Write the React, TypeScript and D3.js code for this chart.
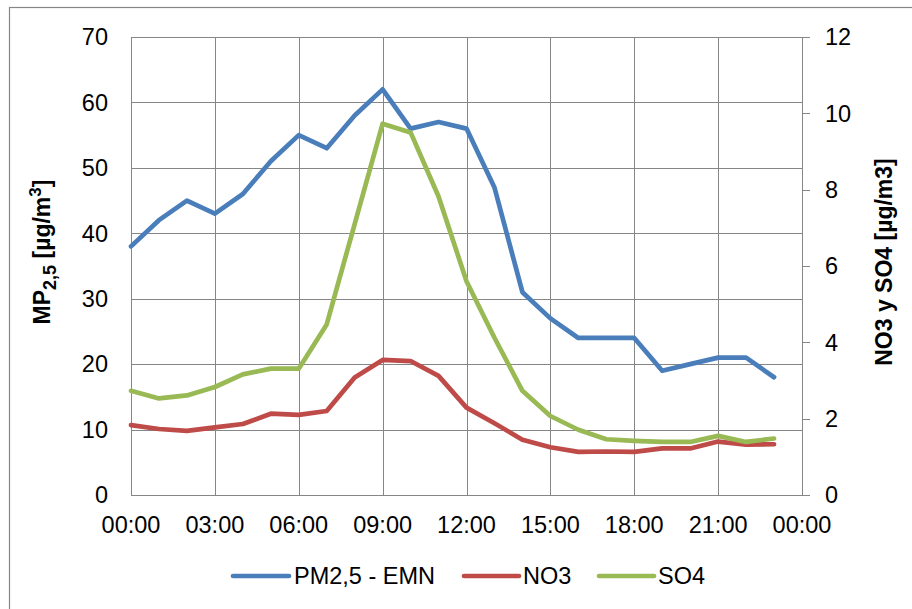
import React from "react";
import * as d3 from "d3";

const hours = d3.range(0, 24);
const pm25 = [38, 42, 45, 43, 46, 51, 55, 53, 58, 62, 56, 57, 56, 47, 31, 27, 24, 24, 24, 19, 20, 21, 21, 18];
const no3 = [1.83, 1.73, 1.68, 1.77, 1.86, 2.13, 2.1, 2.2, 3.08, 3.54, 3.51, 3.12, 2.29, 1.88, 1.45, 1.25, 1.13, 1.14, 1.13, 1.22, 1.22, 1.4, 1.32, 1.33];
const so4 = [2.73, 2.53, 2.61, 2.83, 3.16, 3.31, 3.31, 4.47, 7.1, 9.73, 9.5, 7.82, 5.6, 4.12, 2.73, 2.07, 1.71, 1.46, 1.42, 1.39, 1.39, 1.55, 1.39, 1.48];
const leftTicks = [0, 10, 20, 30, 40, 50, 60, 70];
const rightTicks = [0, 2, 4, 6, 8, 10, 12];
const xTicks = [0, 3, 6, 9, 12, 15, 18, 21, 24];
const xTickLabels = ["00:00", "03:00", "06:00", "09:00", "12:00", "15:00", "18:00", "21:00", "00:00"];
const seriesNames = ["PM2,5 - EMN", "NO3", "SO4"];
const colors = ["#4A7EBB", "#BE4B48", "#98B954"];

export default function App() {
  const L = 131, R = 802, T = 37, B = 495;
  const x = d3.scaleLinear().domain([0, 24]).range([L, R]);
  const yL = d3.scaleLinear().domain([0, 70]).range([B, T]);
  const yR = d3.scaleLinear().domain([0, 12]).range([B, T]);
  const lineL = d3.line<number>().x((_, i) => x(hours[i])).y((d) => yL(d));
  const lineR = d3.line<number>().x((_, i) => x(hours[i])).y((d) => yR(d));
  const grid = "#868686";
  const font = "Liberation Sans, Arial, sans-serif";
  const lw = 4.7;
  const legendItems = [
    { x1: 233, x2: 289, tx: 294 },
    { x1: 464, x2: 519, tx: 523 },
    { x1: 599, x2: 654, tx: 658 },
  ];
  return (
    <svg width={912} height={609} style={{ position: "absolute", left: 0, top: 0, background: "#fff" }} fontFamily={font}>
      <rect x={0} y={0} width={912} height={609} fill="#fff" />
      <rect x={9.5} y={7.5} width={1200} height={1200} fill="none" stroke={grid} strokeWidth={1.2} />
      {leftTicks.map((t) => (
        <line key={"h" + t} x1={L} x2={R} y1={Math.round(yL(t)) + 0.5} y2={Math.round(yL(t)) + 0.5} stroke={grid} strokeWidth={1} />
      ))}
      {xTicks.map((t) => (
        <line key={"v" + t} x1={Math.round(x(t)) + 0.5} x2={Math.round(x(t)) + 0.5} y1={T} y2={B} stroke={grid} strokeWidth={1} />
      ))}
      <line x1={R + 0.5} x2={R + 0.5} y1={T} y2={B} stroke={grid} strokeWidth={1} />
      {rightTicks.map((t) => (
        <line key={"rt" + t} x1={R} x2={R + 8} y1={Math.round(yR(t)) + 0.5} y2={Math.round(yR(t)) + 0.5} stroke={grid} strokeWidth={1} />
      ))}
      {leftTicks.map((t) => (
        <text key={"lt" + t} x={108} y={yL(t)} dy="0.35em" textAnchor="end" fontSize={23.5} fill="#000">
          {t}
        </text>
      ))}
      {rightTicks.map((t) => (
        <text key={"rl" + t} x={825} y={yR(t)} dy="0.35em" textAnchor="start" fontSize={23.5} fill="#000">
          {t}
        </text>
      ))}
      {xTicks.map((t, i) => (
        <text key={"xl" + i} x={x(t)} y={533} textAnchor="middle" fontSize={23.5} fill="#000">
          {xTickLabels[i]}
        </text>
      ))}
      <path d={lineL(pm25) || ""} fill="none" stroke={colors[0]} strokeWidth={lw} strokeLinejoin="round" strokeLinecap="round" />
      <path d={lineR(no3) || ""} fill="none" stroke={colors[1]} strokeWidth={lw} strokeLinejoin="round" strokeLinecap="round" />
      <path d={lineR(so4) || ""} fill="none" stroke={colors[2]} strokeWidth={lw} strokeLinejoin="round" strokeLinecap="round" />
      <text transform="translate(50,252) rotate(-90)" textAnchor="middle" fontSize={23} fontWeight="bold" fill="#000">
        MP<tspan fontSize={18} dy={6}>2,5</tspan>
        <tspan dy={-6}> [µg/m</tspan>
        <tspan fontSize={17} dy={-9}>3</tspan>
        <tspan dy={9}>]</tspan>
      </text>
      <text transform="translate(892,262) rotate(-90)" textAnchor="middle" fontSize={23} fontWeight="bold" fill="#000">
        NO3 y SO4 [µg/m3]
      </text>
      {legendItems.map((it, i) => (
        <g key={"lg" + i}>
          <line x1={it.x1} x2={it.x2} y1={576} y2={576} stroke={colors[i]} strokeWidth={lw} strokeLinecap="round" />
          <text x={it.tx} y={576} dy="0.35em" fontSize={23.5} fill="#000">
            {seriesNames[i]}
          </text>
        </g>
      ))}
    </svg>
  );
}
